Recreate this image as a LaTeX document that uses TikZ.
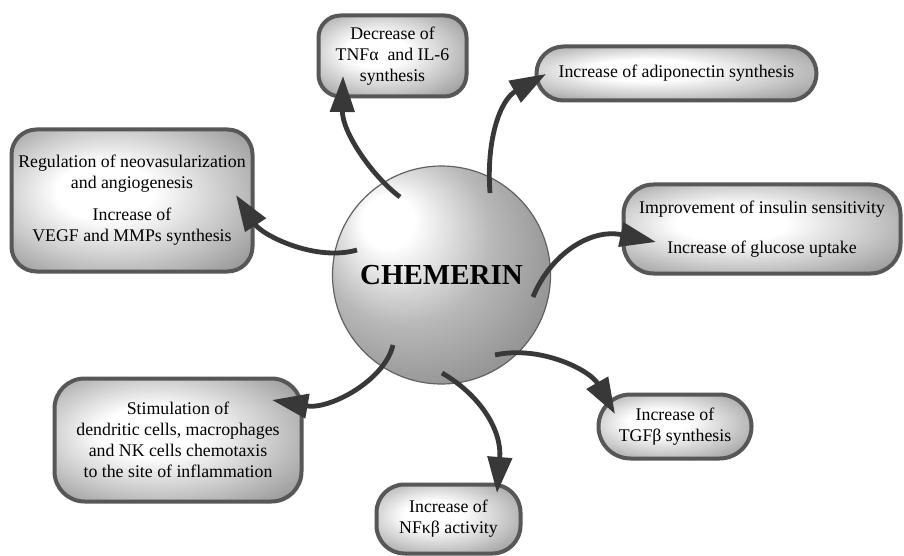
\documentclass[tikz,border=0pt]{standalone}
\usepackage{fontspec}
\setmainfont{Liberation Serif}
\usetikzlibrary{arrows.meta}
\pgfdeclareradialshading{boxshade}{\pgfpoint{-7bp}{4bp}}{color(0bp)=(white); color(10bp)=(white); color(24bp)=(black!22); color(36bp)=(black!42); color(46bp)=(black!55); color(50bp)=(black!60)}
\pgfdeclareradialshading{sphereshade}{\pgfpoint{-14bp}{14bp}}{color(0bp)=(white); color(6bp)=(white); color(20bp)=(black!28); color(32bp)=(black!42); color(44bp)=(black!55); color(50bp)=(black!62)}
\begin{document}
\begin{tikzpicture}[x=1pt,y=-1pt,
  box/.style={draw=black!66, line width=4pt, shade, shading=boxshade, align=center,
    font=\fontsize{17.8}{21}\selectfont, inner sep=0pt},
  conn/.style={draw=black!78, line width=4.8pt, -{Triangle[length=36pt,width=24pt]}}]
\useasboundingbox[fill=white] (0,0) rectangle (904,556);

% central sphere
\node[circle, minimum size=218pt, inner sep=0pt, shade, shading=sphereshade,
  draw=black!62, line width=1.2pt,
  font=\bfseries\fontsize{29}{32}\selectfont] (chem) at (441.5,275) {CHEMERIN};

% boxes
\node[box, minimum width=148pt, minimum height=81pt, rounded corners=22pt] (tnf) at (392.5,56)
  {Decrease of\\TNFα\enspace and IL-6\\synthesis};
\node[box, minimum width=280pt, minimum height=54pt, rounded corners=27pt] (adipo) at (676.5,73.5)
  {Increase of adiponectin synthesis};
\node[box, minimum width=241pt, minimum height=142pt, rounded corners=25pt] (reg) at (132,200.5)
  {Regulation of neovasularization\\and angiogenesis\\[11pt]Increase of\\VEGF and MMPs synthesis};
\node[box, minimum width=277pt, minimum height=89pt, rounded corners=30pt] (ins) at (762,229)
  {Improvement of insulin sensitivity\\[19pt]Increase of glucose uptake};
\node[box, minimum width=247pt, minimum height=123pt, rounded corners=30pt] (stim) at (178,440)
  {Stimulation of\\dendritic cells, macrophages\\and NK cells chemotaxis\\to the site of inflammation};
\node[box, minimum width=153pt, minimum height=64pt, rounded corners=32pt] (tgf) at (675,426.5)
  {Increase of\\TGFβ synthesis};
\node[box, minimum width=144pt, minimum height=69pt, rounded corners=28pt] (nfk) at (448.5,519)
  {Increase of\\NFκβ activity};

% connector end points
\coordinate (s1) at (400,197); \coordinate (t1) at (343,76);
\coordinate (s2) at (490,193); \coordinate (t2) at (546,74);
\coordinate (s3) at (357,250); \coordinate (t3) at (236,195);
\coordinate (s4) at (533,297); \coordinate (t4) at (656,242);
\coordinate (s5) at (393,345); \coordinate (t5) at (272,400);
\coordinate (s6) at (442,373); \coordinate (t6) at (497,493);
\coordinate (s7) at (495,355); \coordinate (t7) at (615,414);

\draw[conn] (s1) .. controls (372,176) and (342,132) .. (t1);
\draw[conn] (s2) .. controls (486,140) and (500,100) .. (t2);
\draw[conn] (s3) .. controls (315,262) and (262,235) .. (t3);
\draw[conn] (s4) .. controls (550,255) and (590,228) .. (t4);
\draw[conn] (s5) .. controls (385,380) and (330,410) .. (t5);
\draw[conn] (s6) .. controls (480,395) and (502,430) .. (t6);
\draw[conn] (s7) .. controls (540,345) and (590,370) .. (t7);
\end{tikzpicture}
\end{document}
